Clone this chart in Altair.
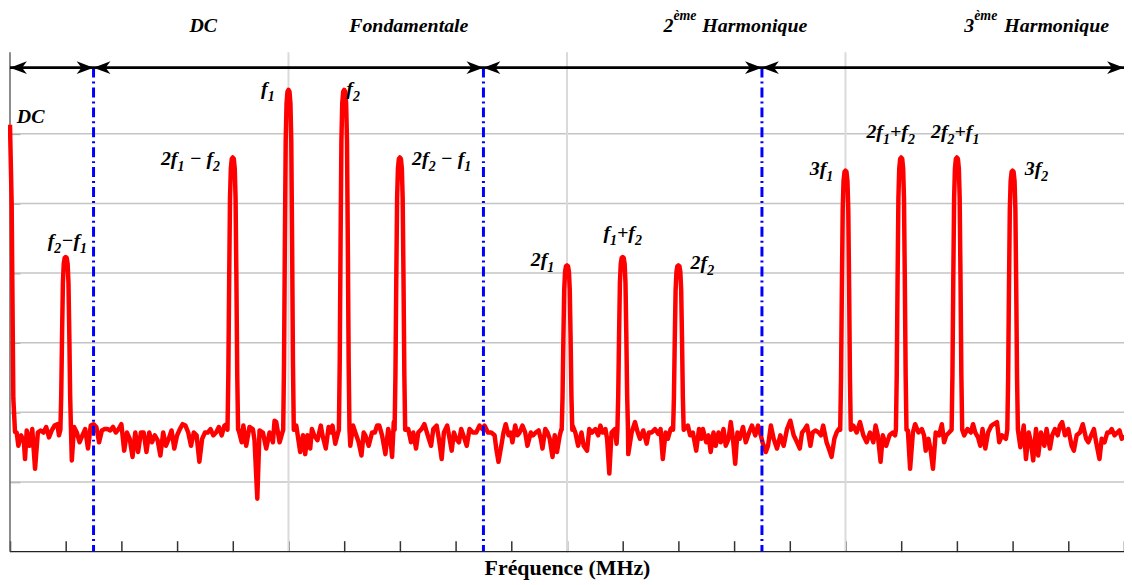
import altair as alt
import pandas as pd

# ---------------- data ----------------
# noise floor of the spectrum (x in tick units, y in grid units)
noise_x = [
    0.12, 0.15, 0.20, 0.25, 0.27, 0.30, 0.35, 0.40, 0.45, 0.50, 0.55, 0.60, 0.65, 0.70, 0.75, 0.80, 0.85, 0.88,
    1.11, 1.15, 1.20, 1.25, 1.30, 1.35, 1.40, 1.45, 1.50, 1.55, 1.60, 1.65, 1.70, 1.75, 1.80, 1.85, 1.90, 1.95,
    2.00, 2.05, 2.10, 2.15, 2.20, 2.25, 2.30, 2.35, 2.40, 2.45, 2.50, 2.55, 2.60, 2.65, 2.70, 2.75, 2.80, 2.85,
    2.90, 2.95, 3.00, 3.05, 3.10, 3.15, 3.20, 3.25, 3.30, 3.35, 3.40, 3.45, 3.50, 3.55, 3.60, 3.65, 3.70, 3.75,
    3.80, 3.85, 3.89,
    4.10, 4.16, 4.19, 4.24, 4.30, 4.36, 4.39, 4.44, 4.48, 4.54, 4.60, 4.66, 4.72, 4.75, 4.78, 4.84, 4.89,
    5.11, 5.14, 5.21, 5.26, 5.30, 5.34, 5.39, 5.42, 5.46, 5.52, 5.58, 5.61, 5.67, 5.72, 5.76, 5.79, 5.84, 5.89,
    6.11, 6.16, 6.20, 6.26, 6.31, 6.35, 6.38, 6.44, 6.50, 6.55, 6.59, 6.63, 6.68, 6.74, 6.79, 6.83, 6.86, 6.89,
    7.15, 7.20, 7.24, 7.29, 7.33, 7.39, 7.44, 7.50, 7.56, 7.60, 7.66, 7.70, 7.75, 7.79, 7.85, 7.93, 7.97,
    8.01, 8.06, 8.10, 8.16, 8.20, 8.25, 8.31, 8.37, 8.43, 8.48, 8.52, 8.58, 8.64, 8.70, 8.73, 8.77, 8.82, 8.86,
    8.90, 8.95, 8.99, 9.02, 9.07, 9.11, 9.15, 9.20, 9.25, 9.29, 9.35, 9.39, 9.44, 9.49, 9.53, 9.56, 9.61, 9.65,
    9.69, 9.74, 9.78, 9.82, 9.87, 9.90,
    10.10, 10.15, 10.20, 10.26, 10.30, 10.36, 10.40, 10.45, 10.51, 10.56, 10.60, 10.64, 10.69, 10.72, 10.76,
    10.80, 10.86, 10.89,
    11.10, 11.16, 11.22, 11.27, 11.31, 11.37, 11.43, 11.47, 11.52, 11.58, 11.64, 11.68, 11.72, 11.77, 11.81,
    11.86, 11.90,
    12.11, 12.17, 12.21, 12.26, 12.32, 12.37, 12.41, 12.44, 12.50, 12.54, 12.58, 12.63, 12.67, 12.72, 12.76,
    12.81, 12.85, 12.90, 12.94, 12.98, 13.02, 13.06, 13.10, 13.16, 13.21, 13.27, 13.32, 13.38, 13.43, 13.48,
    13.51, 13.57, 13.61, 13.66, 13.71, 13.77, 13.83, 13.89, 13.95, 14.01, 14.07, 14.13, 14.18, 14.22, 14.27,
    14.31, 14.37, 14.41, 14.46, 14.52, 14.56, 14.60, 14.66, 14.70, 14.75, 14.80, 14.84, 14.88,
    15.14, 15.20, 15.26, 15.32, 15.38, 15.44, 15.50, 15.54, 15.58, 15.63, 15.67, 15.73, 15.79, 15.85, 15.89,
    16.12, 16.16, 16.21, 16.25, 16.31, 16.37, 16.41, 16.44, 16.49, 16.53, 16.57, 16.62, 16.68, 16.73, 16.77,
    16.81, 16.86,
    17.13, 17.19, 17.25, 17.29, 17.33, 17.38, 17.42, 17.46, 17.51, 17.56, 17.62, 17.66, 17.72, 17.76, 17.81,
    17.88,
    18.14, 18.20, 18.24, 18.29, 18.33, 18.37, 18.42, 18.46, 18.51, 18.57, 18.61, 18.67, 18.71, 18.76, 18.81,
    18.85, 18.89, 18.94, 19.00, 19.06, 19.10, 19.15, 19.21, 19.26, 19.32, 19.36, 19.41, 19.46, 19.50, 19.56,
    19.60, 19.65, 19.70, 19.74, 19.78, 19.83, 19.88, 19.92, 19.96, 20.00,
]
noise_y = [
    1.71, 1.52, 1.67, 1.57, 1.33, 1.74, 1.52, 1.76, 1.19, 1.71, 1.74, 1.71, 1.79, 1.64, 1.74, 1.81, 1.83, 1.67,
    1.31, 1.79, 1.71, 1.57, 1.67, 1.76, 1.48, 1.81, 1.83, 1.79, 1.57, 1.74, 1.76, 1.76, 1.74, 1.79, 1.71, 1.76,
    1.83, 1.45, 1.71, 1.62, 1.36, 1.71, 1.43, 1.71, 1.71, 1.43, 1.71, 1.57, 1.67, 1.60, 1.38, 1.71, 1.52, 1.62,
    1.74, 1.48, 1.67, 1.76, 1.83, 1.81, 1.71, 1.52, 1.71, 1.67, 1.29, 1.62, 1.71, 1.71, 1.76, 1.67, 1.71, 1.79,
    1.67, 1.81, 1.83,
    1.76, 1.57, 1.81, 1.52, 1.79, 1.76, 1.60, 0.76, 1.74, 1.71, 1.48, 1.71, 1.57, 1.88, 1.86, 1.57, 1.71,
    1.76, 1.81, 1.43, 1.67, 1.40, 1.67, 1.48, 1.76, 1.67, 1.60, 1.81, 1.67, 1.48, 1.79, 1.71, 1.81, 1.55, 1.71,
    1.52, 1.81, 1.71, 1.57, 1.38, 1.71, 1.67, 1.52, 1.71, 1.71, 1.81, 1.81, 1.67, 1.40, 1.76, 1.62, 1.36, 1.86,
    1.76, 1.57, 1.71, 1.48, 1.71, 1.76, 1.83, 1.67, 1.52, 1.76, 1.81, 1.62, 1.33, 1.71, 1.81, 1.45, 1.71,
    1.62, 1.57, 1.76, 1.62, 1.52, 1.76, 1.71, 1.71, 1.81, 1.76, 1.81, 1.71, 1.71, 1.67, 1.48, 1.29, 1.52, 1.71,
    1.83, 1.67, 1.71, 1.57, 1.81, 1.67, 1.71, 1.81, 1.71, 1.52, 1.71, 1.67, 1.71, 1.74, 1.62, 1.48, 1.76, 1.71,
    1.62, 1.36, 1.67, 1.43, 1.67, 1.76,
    1.81, 1.71, 1.52, 1.71, 1.52, 1.45, 1.76, 1.71, 1.76, 1.67, 1.81, 1.71, 1.76, 1.62, 1.12,
    1.71, 1.76, 1.55,
    1.40, 1.71, 1.86, 1.71, 1.62, 1.74, 1.55, 1.71, 1.71, 1.76, 1.69, 1.76, 1.33, 1.71, 1.62,
    1.76, 1.79,
    1.76, 1.81, 1.67, 1.71, 1.45, 1.76, 1.62, 1.76, 1.57, 1.67, 1.43, 1.71, 1.52, 1.71, 1.57,
    1.76, 1.52, 1.62, 1.86, 1.62, 1.26, 1.71, 1.62, 1.79, 1.57, 1.71, 1.81, 1.67, 1.81, 1.67,
    1.57, 1.43, 1.52, 1.81, 1.62, 1.48, 1.67, 1.52, 1.76, 1.88, 1.67, 1.57, 1.48, 1.71, 1.76,
    1.81, 1.52, 1.71, 1.74, 1.71, 1.67, 1.81, 1.57, 1.48, 1.36, 1.62, 1.71, 1.76,
    1.81, 1.71, 1.86, 1.67, 1.57, 1.71, 1.57, 1.81, 1.67, 1.29, 1.67, 1.52, 1.67, 1.71, 1.67,
    1.74, 1.19, 1.71, 1.83, 1.71, 1.76, 1.67, 1.45, 1.62, 1.45, 1.19, 1.71, 1.67, 1.83, 1.57,
    1.67, 1.71,
    1.67, 1.76, 1.71, 1.83, 1.71, 1.64, 1.52, 1.76, 1.48, 1.71, 1.81, 1.83, 1.86, 1.57, 1.67,
    1.62,
    1.50, 1.81, 1.33, 1.71, 1.57, 1.31, 1.76, 1.38, 1.71, 1.52, 1.76, 1.48, 1.67, 1.76, 1.67,
    1.81, 1.86, 1.67, 1.76, 1.52, 1.45, 1.67, 1.71, 1.83, 1.62, 1.57, 1.67, 1.76, 1.57, 1.33,
    1.62, 1.57, 1.71, 1.71, 1.76, 1.67, 1.71, 1.74, 1.62, 1.67,
]

# DC component at the left edge
dc_x = [0.0, 0.03, 0.06, 0.09]
dc_y = [6.13, 5.0, 2.2, 1.72]

# spectral lines
peak_x = [1, 4, 5, 6, 7, 10, 11, 12, 15, 16, 17, 18]
peak_y = [4.23, 5.66, 6.63, 6.63, 5.66, 4.11, 4.23, 4.11, 5.47, 5.66, 5.66, 5.47]
profile_dx = [-0.095, -0.08, -0.065, -0.05, -0.035, -0.018, 0.0, 0.018, 0.035, 0.05, 0.065, 0.08, 0.095]
profile_frac = [0.0, 0.2, 0.55, 0.85, 0.96, 0.995, 1.0, 0.995, 0.96, 0.85, 0.55, 0.2, 0.0]
floor_level = 1.75

# band separators and arrows
sep_x = [1.5, 8.5, 13.5]
arrow_level = 6.95
arrow_right_tips = [1.5, 8.5, 13.5, 20.0]
arrow_left_tips = [0.0, 1.5, 8.5, 13.5]

# grid / ticks
x_ticks = list(range(0, 21))
x_grid = [5, 10, 15]
y_grid = [1, 2, 3, 4, 5, 6]

# peak labels ("_" makes the next character a subscript); centre positions
lab_text = ["DC", "f_2−f_1", "2f_1 − f_2", "f_1", "f_2", "2f_2 − f_1", "2f_1", "f_1+f_2", "2f_2",
            "3f_1", "2f_1+f_2", "2f_2+f_1", "3f_2"]
lab_x = [0.37, 1.03, 3.24, 4.63, 6.16, 7.75, 9.56, 11.0, 12.43, 14.57, 15.81, 16.97, 18.43]
lab_y = [6.21, 4.43, 5.61, 6.61, 6.61, 5.61, 4.16, 4.54, 4.11, 5.47, 5.99, 5.99, 5.47]

# band titles
band_c_text = ["DC", "Fondamentale"]
band_c_x = [3.47, 7.16]
band_num_text = ["2", "3"]
band_sup_text = ["ème", "ème"]
band_sup_x = [11.91, 17.31]
band_word_text = ["Harmonique", "Harmonique"]
band_word_x = [12.43, 17.85]
band_base_y = 7.457
band_sup_y = 7.63

# ---------------- build tables ----------------
rows = [{"x": a, "y": b} for a, b in zip(dc_x, dc_y)]
rows += [{"x": a, "y": b} for a, b in zip(noise_x, noise_y)]
for cx, h in zip(peak_x, peak_y):
    for d, f in zip(profile_dx, profile_frac):
        rows.append({"x": cx + d, "y": floor_level + f * (h - floor_level)})
signal = pd.DataFrame(rows).sort_values("x").reset_index(drop=True)

# rich-text layout of the peak labels (main + subscript pieces)
MAIN, SUB = 20, 14
PX_X = 1120 / 20.0
PX_Y = 502 / 7.17
ADV = {"f": 0.333, "1": 0.5, "2": 0.5, "3": 0.5, "D": 0.722, "C": 0.667, "+": 0.570,
       "−": 0.606, " ": 0.25}


def pieces(s):
    out, i = [], 0
    while i < len(s):
        if s[i] == "_":
            out.append((s[i + 1], True))
            i += 2
        else:
            j = i
            while j < len(s) and s[j] != "_":
                j += 1
            out.append((s[i:j], False))
            i = j
    return out


seg_rows = []
for t, cx, cy in zip(lab_text, lab_x, lab_y):
    ps = pieces(t)
    widths = [sum(ADV.get(c, 0.5) for c in p) * (SUB if sub else MAIN) for p, sub in ps]
    off = -sum(widths) / 2.0
    base = cy - 4.0 / PX_Y
    for (p, sub), w in zip(ps, widths):
        lead = (len(p) - len(p.lstrip(" "))) * ADV[" "] * MAIN
        seg_rows.append({"x": cx + (off + lead) / PX_X,
                         "y": base - (6.0 / PX_Y if sub else 0.0),
                         "t": p.strip(" "), "sub": sub})
        off += w
segs = pd.DataFrame(seg_rows)

SERIF = "Liberation Serif"
xscale = alt.Scale(domain=[0, 20], nice=False, zero=False)
yscale = alt.Scale(domain=[0, 7.17], nice=False, zero=False)
xaxis = alt.Axis(values=x_ticks, labels=False, tickSize=11, offset=-11, domain=False, grid=False,
                 tickColor="#333333", tickWidth=1.5, title="Fréquence (MHz)", titleFont=SERIF,
                 titleFontSize=22, titleFontWeight="bold", titleColor="black", titlePadding=5)
yaxis = alt.Axis(values=y_grid, labels=False, tickSize=10, offset=-10, domain=False, grid=False,
                 tickColor="#9a9a9a", tickWidth=1.5, title=None)


def X(f):
    return alt.X(f, type="quantitative", scale=xscale, axis=xaxis)


def Y(f):
    return alt.Y(f, type="quantitative", scale=yscale, axis=yaxis)


hgrid = alt.Chart(pd.DataFrame({"y": y_grid})).mark_rule(color="#c4c4c4", strokeWidth=1.5).encode(y=Y("y"))
vgrid = alt.Chart(pd.DataFrame({"x": x_grid})).mark_rule(color="#dadada", strokeWidth=2).encode(x=X("x"))
bottom = alt.Chart(pd.DataFrame({"y": [0]})).mark_rule(color="#222222", strokeWidth=1.5).encode(y=Y("y"))
left = alt.Chart(pd.DataFrame({"x": [0]})).mark_rule(color="#666666", strokeWidth=1.5).encode(x=X("x"))

line = alt.Chart(signal).mark_line(color="#ff0000", strokeWidth=4.5, strokeJoin="round").encode(
    x=X("x"), y=Y("y"), order="x:Q")

seps = alt.Chart(pd.DataFrame({"x": sep_x, "y": [arrow_level] * 3, "y2": [0] * 3})).mark_rule(
    color="#0000ff", strokeWidth=3, strokeDash=[10, 4, 2, 4]).encode(x=X("x"), y=Y("y"), y2="y2")

arrow_line = alt.Chart(pd.DataFrame({"x": [0], "x2": [20], "y": [arrow_level]})).mark_rule(
    color="black", strokeWidth=3).encode(x=X("x"), x2="x2", y=Y("y"))

RIGHT = "M0,0 L-2.1,-0.8 L-1.5,0 L-2.1,0.8 Z"
LEFT = "M0,0 L2.1,-0.8 L1.5,0 L2.1,0.8 Z"
heads_r = alt.Chart(pd.DataFrame({"x": arrow_right_tips, "y": [arrow_level] * 4})).mark_point(
    shape=RIGHT, filled=True, size=262, color="black", opacity=1).encode(x=X("x"), y=Y("y"))
heads_l = alt.Chart(pd.DataFrame({"x": arrow_left_tips, "y": [arrow_level] * 4})).mark_point(
    shape=LEFT, filled=True, size=262, color="black", opacity=1).encode(x=X("x"), y=Y("y"))

txt = dict(font=SERIF, fontWeight="bold", fontStyle="italic", color="black")
lab_main = alt.Chart(segs[~segs["sub"]]).mark_text(
    fontSize=MAIN, align="left", baseline="alphabetic", **txt).encode(x=X("x"), y=Y("y"), text="t:N")
lab_sub = alt.Chart(segs[segs["sub"]]).mark_text(
    fontSize=SUB, align="left", baseline="alphabetic", **txt).encode(x=X("x"), y=Y("y"), text="t:N")

band_c = alt.Chart(pd.DataFrame({"x": band_c_x, "y": [band_base_y] * 2, "t": band_c_text})).mark_text(
    fontSize=20, align="center", baseline="alphabetic", **txt).encode(x=X("x"), y=Y("y"), text="t:N")
band_num = alt.Chart(pd.DataFrame({"x": band_sup_x, "y": [band_base_y] * 2, "t": band_num_text})).mark_text(
    fontSize=20, align="right", baseline="alphabetic", **txt).encode(x=X("x"), y=Y("y"), text="t:N")
band_sup = alt.Chart(pd.DataFrame({"x": band_sup_x, "y": [band_sup_y] * 2, "t": band_sup_text})).mark_text(
    fontSize=14, align="left", baseline="alphabetic", **txt).encode(x=X("x"), y=Y("y"), text="t:N")
band_word = alt.Chart(pd.DataFrame({"x": band_word_x, "y": [band_base_y] * 2, "t": band_word_text})).mark_text(
    fontSize=20, align="left", baseline="alphabetic", **txt).encode(x=X("x"), y=Y("y"), text="t:N")

chart = alt.layer(
    hgrid, vgrid, bottom, left, line, seps, arrow_line, heads_r, heads_l,
    lab_main, lab_sub, band_c, band_num, band_sup, band_word
).properties(
    width=1120, height=502,
    autosize=alt.AutoSizeParams(type="none"),
    padding={"left": 2, "top": 43, "right": 0, "bottom": 30},
    background="white",
).configure_view(stroke=None)

chart.save("out.html", embed_options={"renderer": "svg", "actions": False})
